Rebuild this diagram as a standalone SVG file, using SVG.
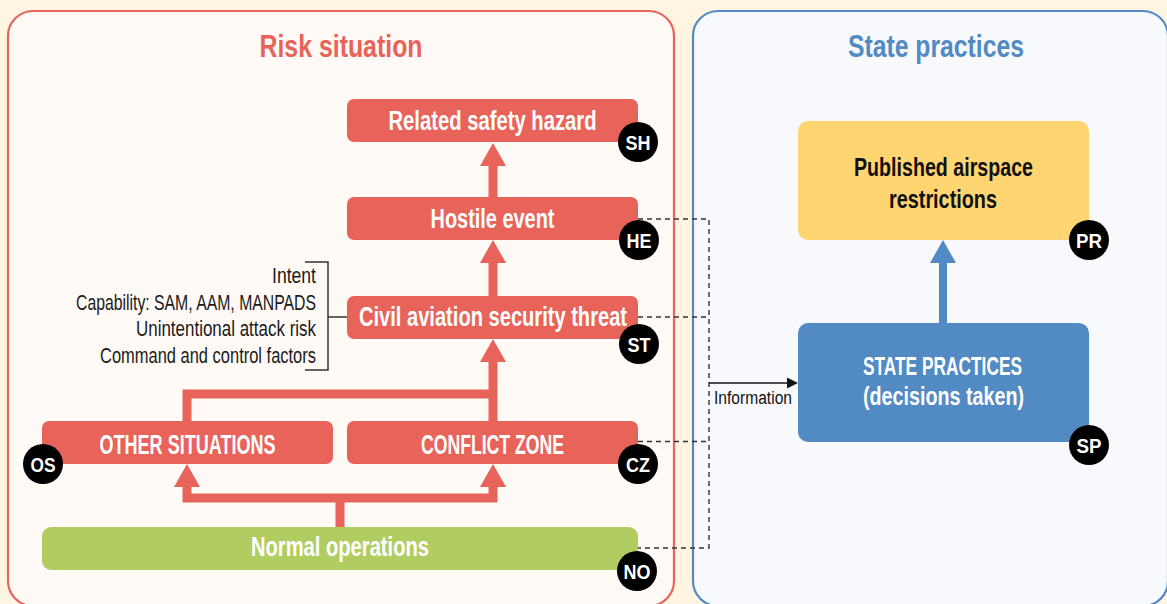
<svg xmlns="http://www.w3.org/2000/svg" width="1167" height="604" viewBox="0 0 1167 604">
<style>
.t{font-family:"Liberation Sans Narrow","Liberation Sans",Arial,sans-serif;font-weight:bold;text-anchor:middle}
.w{fill:#ffffff}
.red{fill:#E8645A}
.badge{fill:#000000}
.bt{font-family:"Liberation Sans Narrow","Liberation Sans",Arial,sans-serif;font-weight:bold;font-size:21px;fill:#ffffff;text-anchor:middle}
.lst{font-family:"Liberation Sans Narrow","Liberation Sans",Arial,sans-serif;font-size:22px;fill:#1a1a1a;text-anchor:end}
.rl{fill:none;stroke:#E8645A;stroke-width:9;stroke-linejoin:miter}
.dash{fill:none;stroke:#333333;stroke-width:1.4;stroke-dasharray:5 4}
</style>
<rect x="0" y="0" width="1167" height="604" fill="#FFF5E1"/>
<g id="panel-risk">
<rect x="8" y="11" width="666" height="595" rx="25" fill="#FFFAF6" stroke="#E8645A" stroke-width="2.2"/>
<text class="t" x="341" y="57" font-size="32" fill="#E8645A" textLength="163" lengthAdjust="spacingAndGlyphs">Risk situation</text>
</g>
<g id="panel-state">
<rect x="693" y="11" width="475" height="595" rx="25" fill="#F8F9FD" stroke="#528AC4" stroke-width="2.2"/>
<text class="t" x="936" y="57" font-size="32" fill="#528AC4" textLength="176" lengthAdjust="spacingAndGlyphs">State practices</text>
</g>
<g id="connectors">
<line class="rl" x1="493" y1="197" x2="493" y2="164"/>
<polygon class="red" points="493,143 506,166 480,166"/>
<line class="rl" x1="493" y1="296" x2="493" y2="261"/>
<polygon class="red" points="493,240 506,263 480,263"/>
<polyline class="rl" points="187,421 187,394 493,394"/>
<line class="rl" x1="493" y1="421" x2="493" y2="360"/>
<polygon class="red" points="493,339 506,362 480,362"/>
<line class="rl" x1="340" y1="527" x2="340" y2="498"/>
<polyline class="rl" points="187,485 187,498 493,498 493,485"/>
<polygon class="red" points="187,464 200,487 174,487"/>
<polygon class="red" points="493,464 506,487 480,487"/>
<line x1="943" y1="323" x2="943" y2="261" stroke="#528AC4" stroke-width="8"/>
<polygon points="943,240 956,263 930,263" fill="#528AC4"/>
<path class="dash" d="M638,219 H709 V548 H638 M638,317 H709 M638,441.5 H709"/>
<line x1="709" y1="383" x2="790" y2="383" stroke="#111111" stroke-width="1.5"/>
<polygon points="798,383 787,377.5 787,388.5" fill="#111111"/>
<text x="714" y="404" font-family="'Liberation Sans Narrow','Liberation Sans',Arial,sans-serif" font-size="18" fill="#111111" textLength="78" lengthAdjust="spacingAndGlyphs">Information</text>
<path d="M305,262 H328 V370 H305 M328,317 H347" fill="none" stroke="#333333" stroke-width="1.5"/>
</g>
<g id="factors">
<text class="lst" x="316" y="283" textLength="44" lengthAdjust="spacingAndGlyphs">Intent</text>
<text class="lst" x="316" y="309.5" textLength="240" lengthAdjust="spacingAndGlyphs">Capability: SAM, AAM, MANPADS</text>
<text class="lst" x="316" y="336" textLength="180" lengthAdjust="spacingAndGlyphs">Unintentional attack risk</text>
<text class="lst" x="316" y="362.5" textLength="216" lengthAdjust="spacingAndGlyphs">Command and control factors</text>
</g>
<g id="node-SH">
<rect x="347" y="99" width="291" height="43" rx="7" class="red"/>
<text class="t w" x="492.5" y="129.5" font-size="27" textLength="208" lengthAdjust="spacingAndGlyphs">Related safety hazard</text>
<circle cx="638" cy="142" r="20" class="badge"/>
<text class="bt" x="638" y="149.5" textLength="25" lengthAdjust="spacingAndGlyphs">SH</text>
</g>
<g id="node-HE">
<rect x="347" y="197" width="291" height="43" rx="7" class="red"/>
<text class="t w" x="492.5" y="227.5" font-size="27" textLength="124" lengthAdjust="spacingAndGlyphs">Hostile event</text>
<circle cx="639" cy="240" r="20" class="badge"/>
<text class="bt" x="639" y="247.5" textLength="25" lengthAdjust="spacingAndGlyphs">HE</text>
</g>
<g id="node-ST">
<rect x="347" y="296" width="291" height="43" rx="7" class="red"/>
<text class="t w" x="493" y="326" font-size="27" textLength="268" lengthAdjust="spacingAndGlyphs">Civil aviation security threat</text>
<circle cx="639" cy="344" r="20" class="badge"/>
<text class="bt" x="639" y="351.5" textLength="23" lengthAdjust="spacingAndGlyphs">ST</text>
</g>
<g id="node-OS">
<rect x="42" y="421" width="291" height="43" rx="7" class="red"/>
<text class="t w" x="187.5" y="453.5" font-size="27" textLength="176" lengthAdjust="spacingAndGlyphs">OTHER SITUATIONS</text>
<circle cx="43" cy="464" r="20" class="badge"/>
<text class="bt" x="43" y="471.5" textLength="25" lengthAdjust="spacingAndGlyphs">OS</text>
</g>
<g id="node-CZ">
<rect x="347" y="421" width="291" height="43" rx="7" class="red"/>
<text class="t w" x="492.5" y="453.5" font-size="27" textLength="143" lengthAdjust="spacingAndGlyphs">CONFLICT ZONE</text>
<circle cx="638" cy="464" r="20" class="badge"/>
<text class="bt" x="638" y="471.5" textLength="24" lengthAdjust="spacingAndGlyphs">CZ</text>
</g>
<g id="node-NO">
<rect x="42" y="527" width="596" height="43" rx="9" fill="#B1CD62"/>
<text class="t w" x="340" y="556" font-size="27" textLength="178" lengthAdjust="spacingAndGlyphs">Normal operations</text>
<circle cx="637" cy="571" r="20" class="badge"/>
<text class="bt" x="637" y="578.5" textLength="27" lengthAdjust="spacingAndGlyphs">NO</text>
</g>
<g id="node-PR">
<rect x="798" y="121" width="291" height="119" rx="10" fill="#FFD572"/>
<text class="t" x="943.5" y="176" font-size="26" fill="#111111" textLength="179" lengthAdjust="spacingAndGlyphs">Published airspace</text>
<text class="t" x="943" y="208" font-size="26" fill="#111111" textLength="108" lengthAdjust="spacingAndGlyphs">restrictions</text>
<circle cx="1089" cy="240" r="20" class="badge"/>
<text class="bt" x="1089" y="247.5" textLength="26" lengthAdjust="spacingAndGlyphs">PR</text>
</g>
<g id="node-SP">
<rect x="798" y="323" width="291" height="119" rx="10" fill="#528AC4"/>
<text class="t w" x="942.5" y="375" font-size="26" textLength="159" lengthAdjust="spacingAndGlyphs">STATE PRACTICES</text>
<text class="t w" x="943.5" y="405" font-size="26" textLength="161" lengthAdjust="spacingAndGlyphs">(decisions taken)</text>
<circle cx="1089" cy="445" r="20" class="badge"/>
<text class="bt" x="1089" y="452.5" textLength="25" lengthAdjust="spacingAndGlyphs">SP</text>
</g>
</svg>
